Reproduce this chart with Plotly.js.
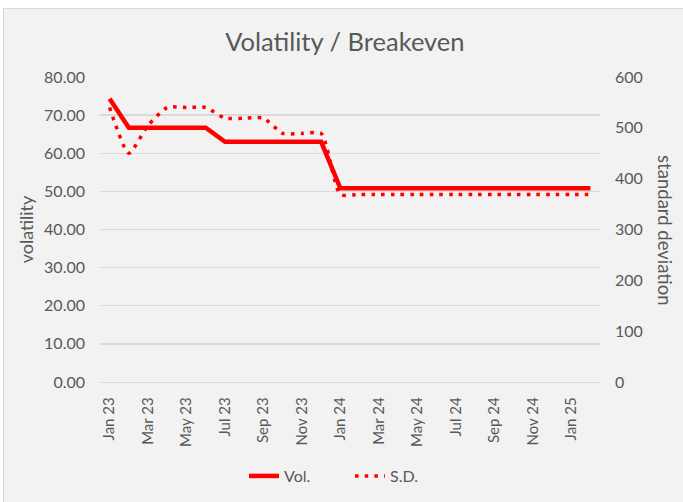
<!DOCTYPE html>
<html>
<head>
<meta charset="utf-8">
<script src="https://cdn.plot.ly/plotly-3.0.1.min.js"></script>
<style>
  html, body { margin: 0; padding: 0; background: #ffffff; overflow: hidden; }
  #frame { position: absolute; left: 3px; top: 8px; width: 680px; height: 494px;
           border-top: 1px solid #d9d9d9; border-left: 1px solid #d9d9d9; background: #f2f2f2; }
  #chart { width: 679px; height: 493px; }
</style>
</head>
<body>
<div id="frame"><div id="chart"></div></div>
<script>
// ---- data ----
const months = ["Jan 23","Feb 23","Mar 23","Apr 23","May 23","Jun 23","Jul 23","Aug 23","Sep 23","Oct 23","Nov 23","Dec 23",
                "Jan 24","Feb 24","Mar 24","Apr 24","May 24","Jun 24","Jul 24","Aug 24","Sep 24","Oct 24","Nov 24","Dec 24",
                "Jan 25","Feb 25"];
const vol = [74.3, 66.7, 66.7, 66.7, 66.7, 66.7, 63.0, 63.0, 63.0, 63.0, 63.0, 63.0,
             50.8, 50.8, 50.8, 50.8, 50.8, 50.8, 50.8, 50.8, 50.8, 50.8, 50.8, 50.8, 50.8, 50.8];
const sd = [540, 450, 505, 540, 540, 540, 519, 519, 519, 489, 489, 489,
            369, 369, 369, 369, 369, 369, 369, 369, 369, 369, 369, 369, 369, 369];
const leftTicks = [0, 10, 20, 30, 40, 50, 60, 70, 80];
const rightTicks = [0, 100, 200, 300, 400, 500, 600];
const shownMonths = months.filter((m, i) => i % 2 === 0);

const FONT = "Lato, 'Open Sans', sans-serif";
const GREY = "#595959";

const traces = [
  { x: months, y: vol, name: "Vol.", type: "scatter", mode: "lines", yaxis: "y",
    line: { color: "#ff0000", width: 4.5 } },
  { x: months, y: sd, name: "S.D.", type: "scatter", mode: "lines", yaxis: "y2",
    line: { color: "#ff0000", width: 3.5, dash: "3.5px,6.2px", shape: "spline", smoothing: 0.6 } }
];

const layout = {
  width: 679, height: 493,
  paper_bgcolor: "#f2f2f2", plot_bgcolor: "#f2f2f2",
  margin: { l: 96, r: 83, t: 68, b: 120 },
  font: { family: FONT, color: GREY },
  title: { text: "Volatility / Breakeven", font: { family: FONT, size: 25.5, color: GREY },
           x: 0.502, xref: "container", xanchor: "center", y: 0.933, yref: "container", yanchor: "middle" },
  xaxis: { type: "category", range: [-0.5, 25.5], tickmode: "array", tickvals: shownMonths, ticktext: shownMonths,
           tickangle: -90, tickfont: { size: 15, color: GREY }, showgrid: false, zeroline: false,
           showline: true, linecolor: "#d9d9d9", linewidth: 1.3, ticks: "", ticklabelstandoff: 8 },
  yaxis: { range: [0, 80], tickvals: leftTicks, ticktext: leftTicks.map(v => v.toFixed(2)),
           tickfont: { size: 16, color: GREY }, gridcolor: "#d9d9d9", gridwidth: 1.3, zeroline: false,
           ticks: "", ticklabelstandoff: 14,
           title: { text: "volatility", font: { size: 18, color: GREY }, standoff: 5 } },
  yaxis2: { range: [0, 600], tickvals: rightTicks, overlaying: "y", side: "right",
            tickfont: { size: 16, color: GREY }, showgrid: false, zeroline: false, ticks: "", ticklabelstandoff: 14 },
  annotations: [
    { text: "standard deviation", textangle: 90, xref: "paper", yref: "paper", x: 1.13, y: 0.498,
      xanchor: "center", yanchor: "middle", showarrow: false, font: { family: FONT, size: 18.5, color: GREY } }
  ],
  legend: { orientation: "h", x: 0.5, xanchor: "center", y: 0.0527, yref: "container", yanchor: "middle",
            font: { size: 16, color: GREY }, bgcolor: "rgba(0,0,0,0)", entrywidth: 61 },
  showlegend: true
};

Plotly.newPlot("chart", traces, layout, { displayModeBar: false, staticPlot: true });
</script>
</body>
</html>
